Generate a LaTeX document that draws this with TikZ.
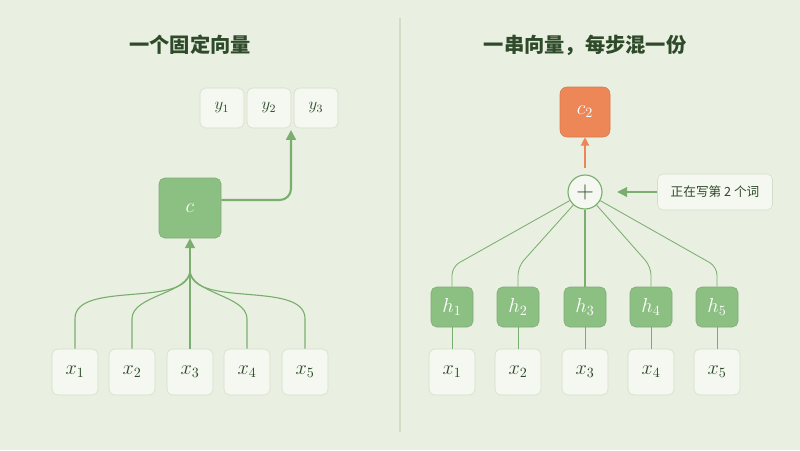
\documentclass[tikz,border=0pt]{standalone}
\usepackage{fontspec}
\newfontfamily\cjk{Noto Sans CJK SC}
\usetikzlibrary{positioning,arrows.meta}
\definecolor{bg}{HTML}{EAF0E1}
\definecolor{ink}{HTML}{2E4A2A}
\definecolor{pale}{HTML}{F5F8F0}
\definecolor{rim}{HTML}{D3DEC9}
\definecolor{leaf}{HTML}{8CBF82}
\definecolor{wire}{HTML}{7AAE6E}
\definecolor{ember}{HTML}{EE8758}
\tikzset{
  token/.style={draw=rim, fill=pale, rounded corners=4pt, minimum width=46*0.025cm, minimum height=46*0.025cm, text=ink, font=\Large},
  outtok/.style={token, minimum width=44*0.025cm, minimum height=40*0.025cm, font=\large},
  hidden/.style={draw=leaf!90!black, fill=leaf, rounded corners=4pt, minimum width=42*0.025cm, minimum height=40*0.025cm, text=white, font=\Large},
  link/.style={wire, line width=0.8pt},
  title/.style={text=ink, font=\cjk\bfseries\Large}
}
\begin{document}
\begin{tikzpicture}[x=0.025cm, y=-0.025cm]
    \fill[bg] (0,0) rectangle (800,450);
    \useasboundingbox (0,0) rectangle (800,450);
    \draw[rim, line width=1pt] (400,18) -- (400,432);

    % Titles
    \node[title] (tl) at (190,45) {一个固定向量};
    \node[title] (tr) at (585,45) {一串向量，每步混一份};

    % Left: one fixed vector
    \foreach \i/\x in {1/75, 2/132, 3/190, 4/247, 5/305} {
        \node[token] (lx\i) at (\x,372) {$x_\i$};
    }
    \node[hidden, minimum width=62*0.025cm, minimum height=60*0.025cm] (c) at (190,208) {$c$};
    \foreach \i/\x in {1/222, 2/269, 3/316} {
        \node[outtok] (y\i) at (\x,108) {$y_\i$};
    }
    \coordinate (merge) at (190,270);
    \foreach \i in {1,2,4,5} {
        \draw[link] (lx\i.north) -- ++(0,-30) to[out=90, in=-90, looseness=0.8] (merge);
    }
    \draw[link] (lx3.north) -- (merge);
    \draw[link, line width=1.2pt, -{Triangle[length=7pt,width=7pt]}] (merge) -- (c.south);
    \coordinate (ytop) at (291,130);
    \draw[link, line width=1.5pt, rounded corners=8pt, -{Triangle[length=7pt,width=7pt]}] (c.east) ++(0,-8) -- (291,200) -- (ytop);

    % Right: a sequence of vectors
    \foreach \i/\x in {1/452, 2/518, 3/585, 4/651, 5/717} {
        \node[token] (rx\i) at (\x,372) {$x_\i$};
        \node[hidden] (h\i) at (\x,307) {$h_\i$};
        \draw[link, line width=0.6pt] (rx\i.north) -- (h\i.south);
    }
    \node[circle, draw=wire, fill=pale, line width=0.8pt, minimum size=34*0.025cm, inner sep=0pt, text=ink, font=\LARGE] (sum) at (585,192) {$+$};
    \node[draw=ember!90!black, fill=ember, rounded corners=5pt, minimum width=50*0.025cm, minimum height=50*0.025cm, text=white, font=\Large] (c2) at (585,112) {$c_2$};
    \node[draw=rim, fill=pale, rounded corners=4pt, minimum width=115*0.025cm, minimum height=36*0.025cm, text=ink, font=\cjk\small] (note) at (715,192) {正在写第 2 个词};
    \foreach \i in {1,2,4,5} {
        \draw[link, line width=0.6pt, rounded corners=6pt] (h\i.north) -- ++(0,-20) -- (sum);
    }
    \draw[link, line width=2pt] (h3.north) -- (sum.south);
    \draw[ember, line width=0.9pt, -{Triangle[length=6pt,width=6pt]}] (sum.north) ++(0,-6) -- (c2.south);
    \draw[link, -{Triangle[length=7pt,width=7pt]}] (note.west) -- ++(-40,0);
\end{tikzpicture}
\end{document}
